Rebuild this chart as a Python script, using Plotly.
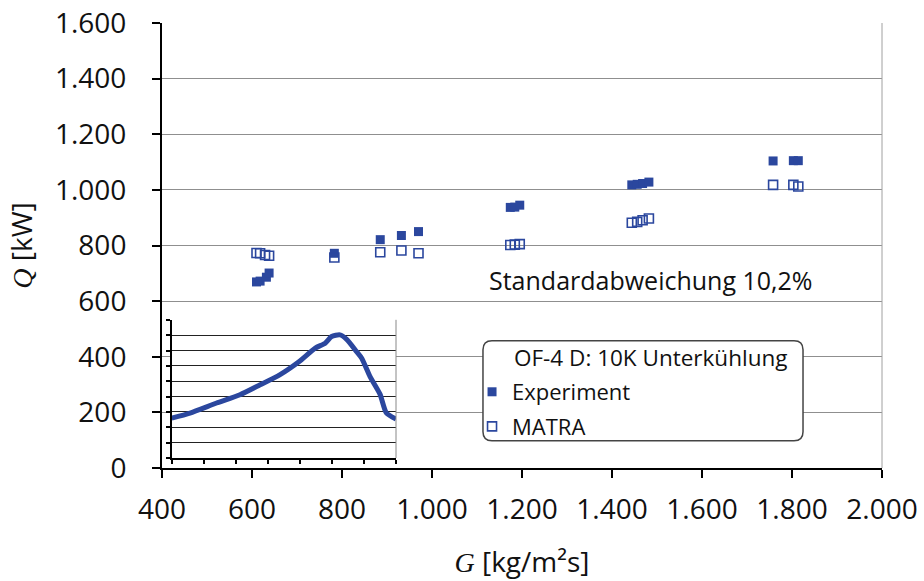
import plotly.graph_objects as go

# ---- data ----
exp_G = [610, 618, 632, 638, 783, 885, 932, 970, 1174, 1184, 1195,
         1444, 1456, 1468, 1482, 1758, 1803, 1814]
exp_Q = [669, 672, 686, 701, 772, 821, 836, 850, 937, 938, 945,
         1018, 1020, 1023, 1028, 1104, 1105, 1105]
matra_G = [610, 618, 629, 638, 783, 885, 932, 970, 1174, 1184, 1195,
           1444, 1456, 1468, 1482, 1758, 1803, 1814]
matra_Q = [773, 772, 766, 763, 757, 776, 782, 772, 802, 803, 805,
           882, 885, 891, 897, 1018, 1018, 1012]

# inset: axial power profile (arbitrary units)
prof_z = [0, 0.57, 1.4, 2.13, 2.76, 3.37, 3.98, 4.48, 4.79, 4.99, 5.25,
          5.46, 5.77, 5.93, 6.19, 6.5, 6.7, 7.0]
prof_p = [2.6, 2.93, 3.58, 4.12, 4.77, 5.42, 6.29, 7.16, 7.48, 7.91, 8.02,
          7.73, 6.93, 6.5, 5.3, 4.16, 2.93, 2.54]

x_ticks = [400, 600, 800, 1000, 1200, 1400, 1600, 1800, 2000]
x_ticklabels = ["400", "600", "800", "1.000", "1.200", "1.400", "1.600", "1.800", "2.000"]
y_ticks = [0, 200, 400, 600, 800, 1000, 1200, 1400, 1600]
y_ticklabels = ["0", "200", "400", "600", "800", "1.000", "1.200", "1.400", "1.600"]

legend_title = "OF-4 D: 10K Unterkühlung"
note = "Standardabweichung 10,2%"

BLUE = "#2B479E"
FONT = "Open Sans"

fig = go.Figure()
fig.add_trace(go.Scatter(
    x=exp_G, y=exp_Q, mode="markers", name="Experiment", legendgroup="a",
    marker=dict(symbol="square", size=9, color=BLUE, line=dict(width=0)),
))
fig.add_trace(go.Scatter(
    x=matra_G, y=matra_Q, mode="markers", name="MATRA", legendgroup="b",
    marker=dict(symbol="square-open", size=9, color=BLUE, line=dict(width=1.6, color=BLUE)),
))
fig.add_trace(go.Scatter(
    x=prof_z, y=prof_p, mode="lines", xaxis="x2", yaxis="y2", showlegend=False,
    line=dict(color=BLUE, width=5, shape="spline", smoothing=0.6),
))

# rounded legend box in paper coords
x0, x1, y0, y1 = 0.4458, 0.8903, 0.0613, 0.2859
rx, ry = 9 / 720, 9 / 445.3
path = (f"M {x0+rx},{y0} L {x1-rx},{y0} Q {x1},{y0} {x1},{y0+ry} "
        f"L {x1},{y1-ry} Q {x1},{y1} {x1-rx},{y1} L {x0+rx},{y1} "
        f"Q {x0},{y1} {x0},{y1-ry} L {x0},{y0+ry} Q {x0},{y0} {x0+rx},{y0} Z")

ser = "font-family:'Liberation Serif','Times New Roman',serif"

fig.update_layout(
    width=924, height=581,
    margin=dict(l=162, r=42, t=23, b=113),
    paper_bgcolor="white", plot_bgcolor="white",
    font=dict(family=FONT, size=28, color="#111111"),
    showlegend=True,
    legend=dict(x=0.4306, y=0.218, xanchor="left", yanchor="top",
                bgcolor="rgba(0,0,0,0)", borderwidth=0,
                font=dict(family=FONT, size=22, color="#111111"),
                tracegroupgap=3, itemwidth=30),
    xaxis=dict(
        range=[400, 2000], tickvals=x_ticks, ticktext=x_ticklabels,
        showgrid=False, zeroline=False, automargin=False,
        showline=True, linecolor="black", linewidth=2,
        ticks="outside", ticklen=8, tickwidth=1.5, tickcolor="black",
        ticklabelstandoff=7,
        tickfont=dict(size=28, family=FONT, color="#111111"),
        title=dict(text=f"<span style=\"{ser}\"><i>G</i></span> [kg/m²s]",
                   font=dict(size=28, family=FONT, color="#111111"), standoff=27),
    ),
    yaxis=dict(
        range=[0, 1600], tickvals=y_ticks, ticktext=y_ticklabels,
        showgrid=True, gridcolor="#8f8f8f", gridwidth=1, zeroline=False,
        automargin=False,
        showline=True, linecolor="black", linewidth=2,
        ticks="outside", ticklen=8, tickwidth=1.5, tickcolor="black",
        ticklabelstandoff=20,
        tickfont=dict(size=28, family=FONT, color="#111111"),
        title=dict(text=f"<span style=\"{ser}\"><i>Q</i></span> [kW]",
                   font=dict(size=28, family=FONT, color="#111111"), standoff=14),
    ),
    xaxis2=dict(
        domain=[0.0135, 0.325], anchor="y2", range=[0, 7], dtick=1,
        showticklabels=False, showgrid=False, zeroline=False,
        showline=True, linecolor="black", linewidth=2,
        ticks="outside", ticklen=4, tickwidth=1.5, tickcolor="black",
    ),
    yaxis2=dict(
        domain=[0.0225, 0.333], anchor="x2", range=[0, 9], dtick=1,
        showticklabels=False, showgrid=True, gridcolor="#222222", gridwidth=1,
        zeroline=False, showline=True, linecolor="black", linewidth=2,
        ticks="outside", ticklen=4, tickwidth=1.5, tickcolor="black",
    ),
    shapes=[
        dict(type="line", xref="x domain", yref="y domain", x0=1, x1=1, y0=0, y1=1,
             line=dict(color="#a0a0a0", width=1)),
        dict(type="line", xref="x2 domain", yref="y2 domain", x0=1, x1=1, y0=0, y1=1,
             line=dict(color="#888888", width=1)),
        dict(type="path", xref="paper", yref="paper", path=path,
             fillcolor="white", line=dict(color="#444444", width=1.5), layer="above"),
    ],
    annotations=[
        dict(text=legend_title, xref="paper", yref="paper", x=0.486, y=0.248,
             xanchor="left", yanchor="middle", showarrow=False,
             font=dict(family=FONT, size=22.5, color="#111111")),
        dict(text=note, xref="paper", yref="paper", x=0.451, y=0.423,
             xanchor="left", yanchor="middle", showarrow=False,
             font=dict(family=FONT, size=25, color="#111111")),
    ],
)

fig.write_html("out.html")
